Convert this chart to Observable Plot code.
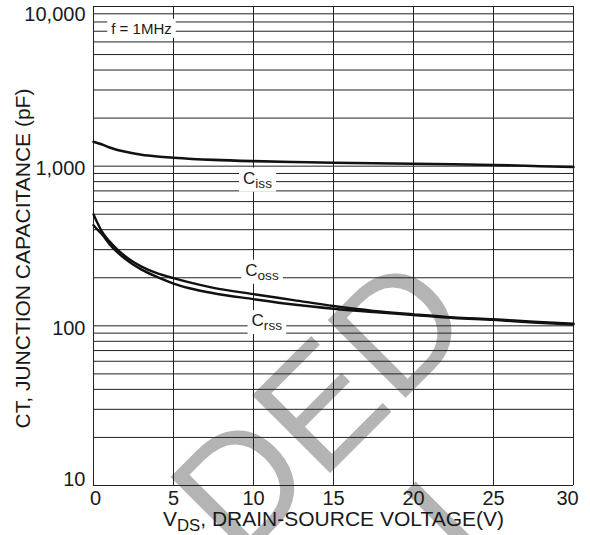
<!DOCTYPE html>
<html><head><meta charset="utf-8">
<script src="https://cdn.jsdelivr.net/npm/d3@7"></script>
<script src="https://cdn.jsdelivr.net/npm/@observablehq/plot@0.6"></script>
<style>
body{margin:0;background:#fff;}
#chart{width:590px;height:535px;}
</style></head><body><div id="chart"></div>
<script>
// ---- data ----
const cissV = [0, 0.5, 1, 2, 3, 4, 5, 7.5, 10, 12.5, 15, 17.5, 20, 22.5, 25, 27.5, 30];
const cissC = [1420, 1370, 1310, 1230, 1180, 1150, 1130, 1095, 1075, 1062, 1050, 1042, 1035, 1028, 1018, 1002, 988];

const cossV = [0, 0.25, 0.5, 1, 1.5, 2, 2.5, 3, 4, 5, 6, 7.5, 10, 12.5, 15, 17.5, 20, 22.5, 25, 27.5, 30];
const cossC = [500, 440, 393, 338, 300, 272, 251, 235, 213, 199, 187, 173, 158, 145, 133, 124, 118, 113, 110, 106, 103];

const crssV = [0, 0.25, 0.5, 1, 1.5, 2, 2.5, 3, 4, 5, 6, 7.5, 10, 12.5, 15, 17.5, 20, 22.5, 25, 27.5, 30];
const crssC = [427, 400, 378, 325, 288, 262, 241, 225, 202, 184, 172, 160, 147, 136, 128, 122, 117, 112, 109, 105, 102];

const xTicks = [0, 5, 10, 15, 20, 25, 30];
const yTicks = [10, 100, 1000, 10000];
const yGrid = [10,20,30,40,50,60,70,80,90,100,200,300,400,500,600,700,800,900,1000,2000,3000,4000,5000,6000,7000,8000,9000,10000];

const annText = ["f = 1MHz", "C{iss}", "C{oss}", "C{rss}"];
const annX = [3.0, 10.25, 10.53, 10.83];
const annY = [7230, 841, 223, 108];
const annSize = [15, 17, 17, 17];

const xLabel = "V{DS}, DRAIN-SOURCE VOLTAGE(V)";
const yLabel = "CT, JUNCTION CAPACITANCE (pF)";
// watermark pieces (grey, rotated) visible in the reference
const watermark = ["DED", "I"];
const watermarkX = [14.3, 22.4];
const watermarkY = [30.4, 5.4];

const font = "'Liberation Sans', Arial, Helvetica, sans-serif";
const fmt = d3.format(",");
const axisOpts = {tickSize: 0, fontSize: 20, label: null, tickFormat: fmt};

const plot = Plot.plot({
  width: 590, height: 535,
  marginTop: 6, marginRight: 17, marginBottom: 50, marginLeft: 93,
  style: {fontFamily: font, background: "transparent", color: "#1a1a1a"},
  x: {domain: [0, 30]},
  y: {type: "log", domain: [10, 10000]},
  marks: [
    Plot.text(watermark, {x: watermarkX, y: watermarkY, text: d => d, rotate: -45, fontSize: 160, fill: "#b4b4b4", fontFamily: font}),
    Plot.ruleY(yGrid, {stroke: "#222", strokeWidth: 1}),
    Plot.ruleX(xTicks, {stroke: "#222", strokeWidth: 1}),
    Plot.axisX(xTicks.slice(1, 6), {...axisOpts, tickPadding: 5}),
    Plot.axisX([0], {...axisOpts, tickPadding: 5, dx: 2}),
    Plot.axisX([30], {...axisOpts, tickPadding: 5, dx: -6}),
    Plot.axisY([100, 1000], {...axisOpts, tickPadding: 8, dy: 2.5}),
    Plot.axisY([10000], {...axisOpts, tickPadding: 8, dy: 8}),
    Plot.axisY([10], {...axisOpts, tickPadding: 8, dy: -6}),
    Plot.line(cissC, {x: cissV, y: cissC, curve: "monotone-x", stroke: "#111", strokeWidth: 2.6}),
    Plot.line(cossC, {x: cossV, y: cossC, curve: "monotone-x", stroke: "#111", strokeWidth: 2.4}),
    Plot.line(crssC, {x: crssV, y: crssC, curve: "monotone-x", stroke: "#111", strokeWidth: 2.4}),
    Plot.text(annText, {x: annX, y: annY, text: d => d, fontSize: (d, i) => annSize[i], fill: "#1a1a1a"}),
    Plot.text([xLabel], {frameAnchor: "bottom", textAnchor: "middle", dy: 40, fontSize: 21, text: d => d}),
    Plot.text([yLabel], {frameAnchor: "left", textAnchor: "middle", rotate: -90, dx: -78, dy: 12.5, lineAnchor: "top", fontSize: 21, text: d => d})
  ]
});

document.getElementById("chart").append(plot);
const svgNS = "http://www.w3.org/2000/svg";
const annSet = new Set(annText);

d3.select(plot).selectAll("text").each(function() {
  const original = this.textContent;
  // subscripts: "{...}" segments become lowered, smaller tspans
  if (original.includes("{")) {
    const base = parseFloat(getComputedStyle(this).fontSize) || 16;
    const subSize = base * 0.8;
    const shift = base * 0.24;
    const parts = original.split(/(\{[^}]*\})/).filter(s => s.length);
    const el = d3.select(this);
    el.text(null);
    let lowered = false;
    for (const p of parts) {
      if (p.startsWith("{")) {
        el.append("tspan").attr("font-size", subSize).attr("dy", shift).text(p.slice(1, -1));
        lowered = true;
      } else {
        const ts = el.append("tspan").text(p);
        if (lowered) { ts.attr("dy", -shift); lowered = false; }
      }
    }
  }
  // white boxes behind the in-plot annotations
  if (annSet.has(original)) {
    const b = this.getBBox();
    const r = document.createElementNS(svgNS, "rect");
    r.setAttribute("x", b.x - 4);
    r.setAttribute("y", b.y - 1);
    r.setAttribute("width", b.width + 8);
    r.setAttribute("height", b.height + 2);
    r.setAttribute("fill", "#fff");
    const tr = this.getAttribute("transform");
    if (tr) r.setAttribute("transform", tr);
    this.parentNode.insertBefore(r, this);
  }
});
</script>
</body></html>
